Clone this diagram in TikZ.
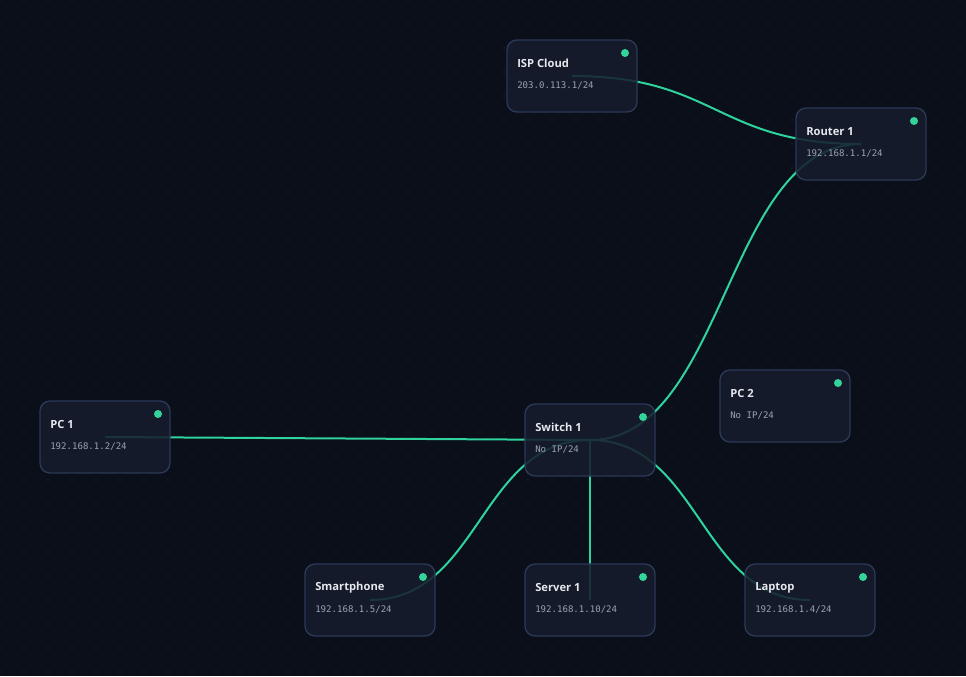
\documentclass[tikz,border=0pt]{standalone}
\usepackage{fontspec}
\usetikzlibrary{calc}
\newfontfamily\titlefont{Open Sans}
\newfontfamily\ipfont{DejaVu Sans Mono}
\definecolor{bgc}{HTML}{0B0F19}
\definecolor{dotc}{HTML}{171D2A}
\definecolor{nodefill}{HTML}{161C2C}
\definecolor{nodeborder}{HTML}{2B3A58}
\definecolor{linkc}{HTML}{2FD39D}
\definecolor{statusc}{HTML}{34D399}
\definecolor{titlec}{HTML}{E6E8EE}
\definecolor{ipc}{HTML}{9AA3B5}
\pgfdeclarelayer{grid}
\pgfdeclarelayer{edges}
\pgfsetlayers{grid,edges,main}
\tikzset{
  device/.style={rectangle, rounded corners=7.5pt, minimum width=97.5pt, minimum height=54pt,
    fill=nodefill, fill opacity=0.86, draw=nodeborder, line width=1pt, inner sep=0},
  ttl/.style={anchor=west, inner sep=0, text=titlec, font=\titlefont\bfseries\fontsize{8.4}{10}\selectfont},
  iptext/.style={anchor=west, inner sep=0, text=ipc, font=\ipfont\fontsize{6.8}{8}\selectfont},
  status/.style={circle, fill=statusc, minimum size=6pt, inner sep=0},
  link/.style={draw=linkc, line width=1.5pt}
}
\newcommand{\devnode}[5]{%
  \node[device] (#1) at (#2,#3) {};
  \node[ttl] (#1-t) at ($(#1.center)+(-55,-12.5)$) {#4};
  \node[iptext] (#1-ip) at ($(#1.center)+(-55,9.5)$) {#5};
  \node[status] (#1-s) at ($(#1.center)+(53,-23)$) {};
}
\newcommand{\curvelink}[2]{%
  \coordinate (#1#2m) at ($(#1.center)!0.5!(#2.center)$);
  \draw[link] (#1.center) .. controls (#1#2m |- #1.center) and (#1#2m |- #2.center) .. (#2.center);
}
\begin{document}
\begin{tikzpicture}[x=0.75pt,y=-0.75pt]
\useasboundingbox (0,0) rectangle (966,676);
\begin{pgfonlayer}{grid}
\fill[bgc] (0,0) rectangle (966,676);
\foreach \i in {0,...,40}{
  \foreach \j in {0,...,28}{
    \fill[dotc] ({24*\i-0.8},{24*\j-0.8}) rectangle ({24*\i+0.8},{24*\j+0.8});
  }
}
\end{pgfonlayer}
\devnode{isp}{572}{76}{ISP Cloud}{203.0.113.1/24}
\devnode{router}{861}{144}{Router 1}{192.168.1.1/24}
\devnode{pctwo}{785}{406}{PC 2}{No IP/24}
\devnode{pcone}{105}{437}{PC 1}{192.168.1.2/24}
\devnode{switch}{590}{440}{Switch 1}{No IP/24}
\devnode{phone}{370}{600}{Smartphone}{192.168.1.5/24}
\devnode{server}{590}{600}{Server 1}{192.168.1.10/24}
\devnode{laptop}{810}{600}{Laptop}{192.168.1.4/24}
\begin{pgfonlayer}{edges}
\curvelink{isp}{router}
\curvelink{switch}{router}
\draw[link] (pcone.center) -- (switch.center);
\curvelink{switch}{phone}
\draw[link] (switch.center) -- (server.center);
\curvelink{switch}{laptop}
\end{pgfonlayer}
\end{tikzpicture}
\end{document}
